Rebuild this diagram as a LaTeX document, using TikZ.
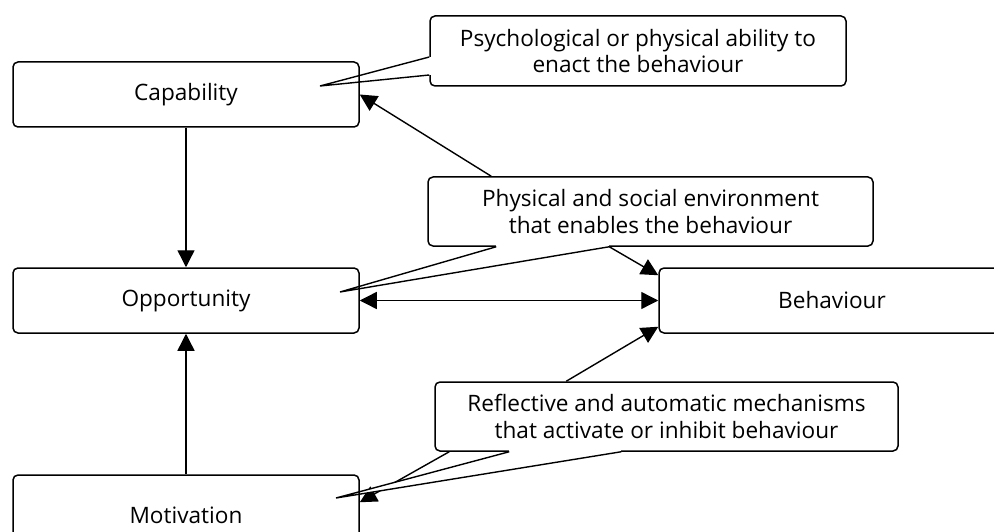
\documentclass[tikz,border=0pt]{standalone}
\usepackage{fontspec}
\setmainfont{Open Sans}
\usetikzlibrary{arrows.meta}

\newcommand{\notetail}[3]{
  \fill[white] (#1) -- (#3) -- (#2) -- cycle;
  \draw[white, line width=2.6pt] (#1) -- (#2);
  \draw[tail] (#1) -- (#3) -- (#2);
}
\tikzset{
box/.style={
  draw=black,
  line width=1.5pt,
  rounded corners=5pt,
  minimum width=346pt,
  minimum height=65pt
  }
}
\tikzset{
note/.style={
  align=center,
  draw=black,
  fill=white,
  line width=1.5pt,
  rounded corners=5pt
  }
}
\tikzstyle{link} = [draw,line width=1.4pt,-{Triangle[length=17pt,width=17pt]}]
\tikzstyle{tail} = [draw,line width=1.4pt,line join=miter]

\begin{document}
\begin{tikzpicture}[x=1pt, y=-1pt, font=\fontsize{22.6}{26.5}\selectfont]
        \useasboundingbox (0,0) rectangle (994,532);
	\pgfdeclarelayer{background}
	\pgfdeclarelayer{foreground}
	\pgfsetlayers{background,main,foreground}

	\begin{pgfonlayer}{foreground}
		%vertices
		\node (cap) at (186, 94.5) [box] {Capability};
		\node (opp) at (186, 300.5) [box] {Opportunity};
		\node (mot) at (186, 515) [box, minimum height=80pt] {Motivation};
		\node (beh) at (832, 300.5) [box] {Behaviour};
	\end{pgfonlayer}

	\begin{pgfonlayer}{main}
		%notes
		\node (notecap) at (638, 51) [note, minimum width=416pt, minimum height=70pt] {Psychological or physical ability to\\enact the behaviour};
		\node (noteopp) at (650.5, 211.5) [note, minimum width=445pt, minimum height=69pt] {Physical and social environment\\that enables the behaviour};
		\node (notemot) at (666.5, 416.5) [note, minimum width=463pt, minimum height=69pt] {Reflective and automatic mechanisms\\that activate or inhibit behaviour};

		\coordinate (captip) at (320, 86);
		\coordinate (opptip) at (340, 292);
		\coordinate (mottip) at (336, 498);

		\notetail{[yshift=-6pt]notecap.west}{[yshift=-24pt]notecap.west}{captip}
		\notetail{[xshift=69pt]noteopp.south west}{[xshift=182pt]noteopp.south west}{opptip}
		\notetail{[xshift=75pt]notemot.south west}{[xshift=187pt]notemot.south west}{mottip}
	\end{pgfonlayer}

	\begin{pgfonlayer}{background}
		%edges
		\draw (cap) edge[link] (opp);
		\draw (mot) edge[link] (opp);
		\draw (opp) edge[link, {Triangle[length=17pt,width=17pt]}-{Triangle[length=17pt,width=17pt]}] (beh);

		\draw ([xshift=64pt]noteopp.north west) edge[link] (cap.east);
		\draw ([xshift=182pt]noteopp.south west) edge[link] ([yshift=-8pt]beh.north west);
		\draw ([xshift=132pt]notemot.north west) edge[link] ([yshift=7pt]beh.south west);
		\draw ([xshift=15pt]notemot.south west) edge[link] ([yshift=-28pt]mot.north east);
	\end{pgfonlayer}
\end{tikzpicture}
\end{document}
